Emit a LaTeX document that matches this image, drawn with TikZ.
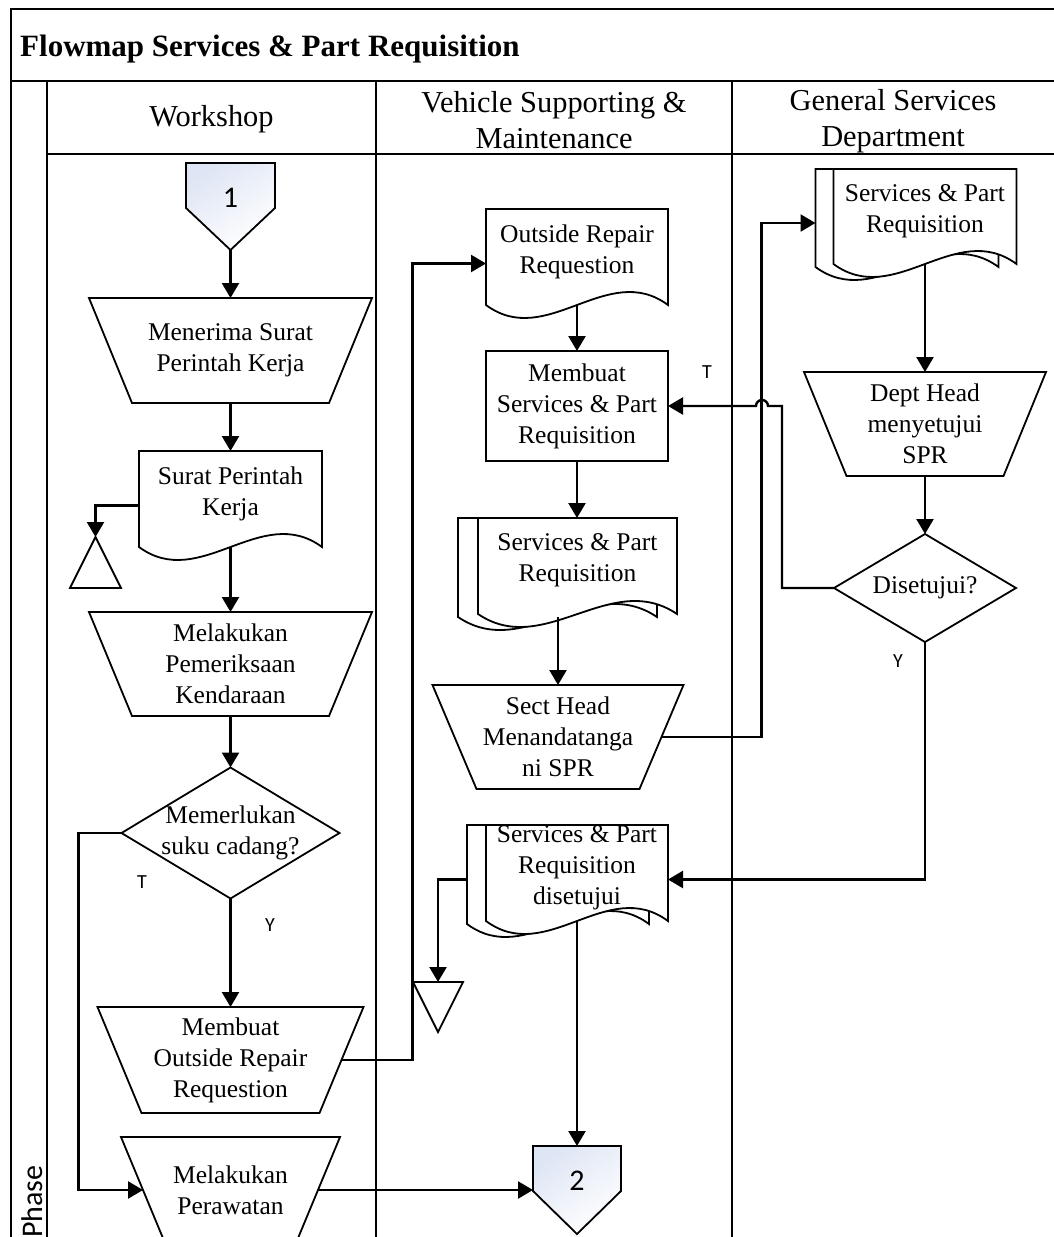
\documentclass[tikz,border=0pt]{standalone}
\usepackage{fontspec}
\setmainfont{Liberation Serif}
\newfontfamily\labelsans{Carlito}
\usetikzlibrary{arrows.meta,calc}

\newcommand\flbody{\fontsize{25.5}{31}\selectfont}
\newcommand\flhead{\fontsize{30.4}{36}\selectfont}

% inverted trapezoid (manual operation) around node #1, bottom inset #2
\newcommand\trapz[2]{\draw[shp] (#1.north west) -- (#1.north east) -- ([xshift=-#2pt]#1.south east) -- ([xshift=#2pt]#1.south west) -- cycle;}
% one document page around node #1: x offset #2, lift of the wave ends #3, width #4
\newcommand\docpage[4]{\draw[shp,fill=white] ([xshift=#2]#1.north west) -- ([xshift=#2,yshift=#3]#1.south west) .. controls +(#4/3,45) and +(-#4/3,-45) .. ([xshift=#2,yshift=#3]#1.south east) -- ([xshift=#2]#1.north east) -- cycle;}
% off-page connector around node #1
\newcommand\offpg[1]{\draw[shp,top color=offblue,bottom color=white,shading angle=35] (#1.north west) -- (#1.north east) -- ([yshift=-45pt]#1.north east) -- (#1.south) -- ([yshift=-45pt]#1.north west) -- cycle;}

\definecolor{offblue}{RGB}{222,229,244}

\begin{document}
\begin{tikzpicture}[x=1pt,y=-1pt,
  shp/.style={draw=black,line width=1.8pt},
  flow/.style={draw=black,line width=2.4pt,-{Triangle[length=15pt,width=17pt]}},
  lane/.style={draw=black,line width=2pt},
  sbox/.style 2 args={rectangle,minimum width=#1pt,minimum height=#2pt,inner sep=0pt,outer sep=0pt,align=center,font=\flbody},
  txt/.style={inner sep=0pt,align=center,font=\flbody},
  yt/.style={font=\labelsans\fontsize{20}{22}\selectfont,inner sep=0pt},
  num/.style={font=\labelsans\fontsize{30}{32}\selectfont,inner sep=0pt}]
\useasboundingbox (0,0) rectangle (1054,1237);
\clip (0,0) rectangle (1054,1237);

% swimlane frame
\draw[lane,line width=2.3pt] (1060,9) -- (11,9) -- (11,1245);
\draw[lane] (11,81) -- (1060,81);
\draw[lane] (47,154) -- (1060,154);
\draw[lane] (47,81) -- (47,1245);
\draw[lane] (376,81) -- (376,1245);
\draw[lane] (732,81) -- (732,1245);

\node[anchor=base west,inner sep=0pt,font=\bfseries\fontsize{31}{36}\selectfont] (title) at (20,56) {Flowmap Services \& Part Requisition};
\node[align=center,inner sep=0pt,font=\flhead] (hw) at (211.5,119) {Workshop};
\node[align=center,inner sep=0pt,font=\flhead] (hv) at (554,120) {Vehicle Supporting \&\\Maintenance};
\node[align=center,inner sep=0pt,font=\flhead] (hg) at (893,121) {General Services\\Department};
\node[rotate=90,anchor=base west,inner sep=0pt,font=\labelsans\fontsize{30}{32}\selectfont] (phase) at (42,1238) {Phase};

% Workshop lane
\node[sbox={89}{87}] (c1) at (230.5,206.5) {};
\offpg{c1}
\node[num] (c1n) at ([yshift=9pt]c1.center) {1};

\node[sbox={283}{105}] (t1) at (230.5,350.5) {Menerima Surat\\Perintah Kerja};
\trapz{t1}{43}

\node[sbox={183}{109}] (d1) at (230.5,505.5) {};
\docpage{d1}{0pt}{13pt}{183}
\node[txt] (d1t) at ([yshift=12pt]d1.center) {Surat Perintah\\Kerja};

\node[sbox={51}{51}] (tri1) at (95.5,562.5) {};
\draw[shp] (tri1.north) -- (tri1.south east) -- (tri1.south west) -- cycle;

\node[sbox={283}{104}] (t2) at (230.5,664) {Melakukan\\Pemeriksaan\\Kendaraan};
\trapz{t2}{43}

\node[sbox={218}{131}] (q1) at (230.5,833) {Memerlukan\\suku cadang?};
\draw[shp] (q1.north) -- (q1.east) -- (q1.south) -- (q1.west) -- cycle;

\node[sbox={266}{106}] (t3) at (230.5,1060) {Membuat\\Outside Repair\\Requestion};
\trapz{t3}{44}

\node[sbox={219}{106}] (t4) at (230.5,1190) {Melakukan\\Perawatan};
\trapz{t4}{44}

% Vehicle Supporting & Maintenance lane
\node[sbox={182}{109}] (d2) at (577,263.5) {};
\docpage{d2}{0pt}{13pt}{182}
\node[txt] (d2t) at ([yshift=12pt]d2.center) {Outside Repair\\Requestion};

\node[sbox={182}{110},shp] (r1) at (577,406) {Membuat\\Services \& Part\\Requisition};

\node[sbox={199}{109}] (m1) at (577.5,572.5) {};
\docpage{m1}{-20pt}{10pt}{199}
\docpage{m1}{0pt}{13pt}{199}
\node[txt] (m1t) at ([yshift=12pt]m1.center) {Services \& Part\\Requisition};

\node[sbox={251}{104}] (t5) at (558,737) {Sect Head\\Menandatanga\\ni SPR};
\trapz{t5}{44}

\node[sbox={182}{109}] (m2) at (577,879.5) {};
\docpage{m2}{-19pt}{10pt}{182}
\docpage{m2}{0pt}{13pt}{182}
\node[txt] (m2t) at ([yshift=12pt]m2.center) {Services \& Part\\Requisition\\disetujui};

\node[sbox={50}{50}] (tri2) at (438,1007) {};
\draw[shp] (tri2.north west) -- (tri2.north east) -- (tri2.south) -- cycle;

\node[sbox={88}{88}] (c2) at (577,1190) {};
\offpg{c2}
\node[num] (c2n) at ([yshift=9pt]c2.center) {2};

% General Services Department lane
\node[sbox={183}{108}] (m3) at (925,223) {};
\docpage{m3}{-18pt}{10pt}{183}
\docpage{m3}{0pt}{13pt}{183}
\node[txt] (m3t) at ([yshift=12pt]m3.center) {Services \& Part\\Requisition};

\node[sbox={242}{104}] (t6) at (925,424) {Dept Head\\menyetujui\\SPR};
\trapz{t6}{42.5}

\node[sbox={182}{108}] (q2) at (925,588) {Disetujui?};
\draw[shp] (q2.north) -- (q2.east) -- (q2.south) -- (q2.west) -- cycle;

% connectors
\draw[flow] (c1.south) -- (t1.north);
\draw[flow] (t1.south) -- (d1.north);
\draw[flow] (d1.west) -| (tri1.north);
\draw[flow] ([yshift=13pt]d1.south) -- (t2.north);
\draw[flow] (t2.south) -- (q1.north);
\draw[flow] (q1.south) -- (t3.north);
\draw[flow] (q1.west) -- ++(-43,0) |- ([xshift=22pt]t4.west);
\draw[flow] ([xshift=-22pt]t3.east) -- ++(71,0) |- (d2.west);
\draw[flow] ([xshift=-22pt]t4.east) -- (c2.west);
\draw[flow] ([yshift=13pt]d2.south) -- (r1.north);
\draw[flow] (r1.south) -- (r1.south |- m1.north);
\draw[flow] ([xshift=-19.5pt,yshift=10pt]m1.south) -- (t5.north);
\draw[flow] ([xshift=-22pt]t5.east) -- ++(100,0) |- ([xshift=-18pt]m3.west);
\draw[flow] ([yshift=13pt]m3.south) -- (t6.north);
\draw[flow] (t6.south) -- (q2.north);
\draw[flow] (q2.west) -- ++(-52,0) |- ([xshift=100pt]r1.east) arc[start angle=0,end angle=180,radius=6pt] -- (r1.east);
\draw[flow] (q2.south) |- (m2.east);
\draw[flow] ([xshift=-19pt]m2.west) -| (tri2.north);
\draw[flow] ([yshift=13pt]m2.south) -- (c2.north);

% branch labels
\node[yt] (lT1) at (142,882) {T};
\node[yt] (lY1) at (270,925) {Y};
\node[yt] (lT2) at (707,372) {T};
\node[yt] (lY2) at (898,661) {Y};
\end{tikzpicture}
\end{document}
